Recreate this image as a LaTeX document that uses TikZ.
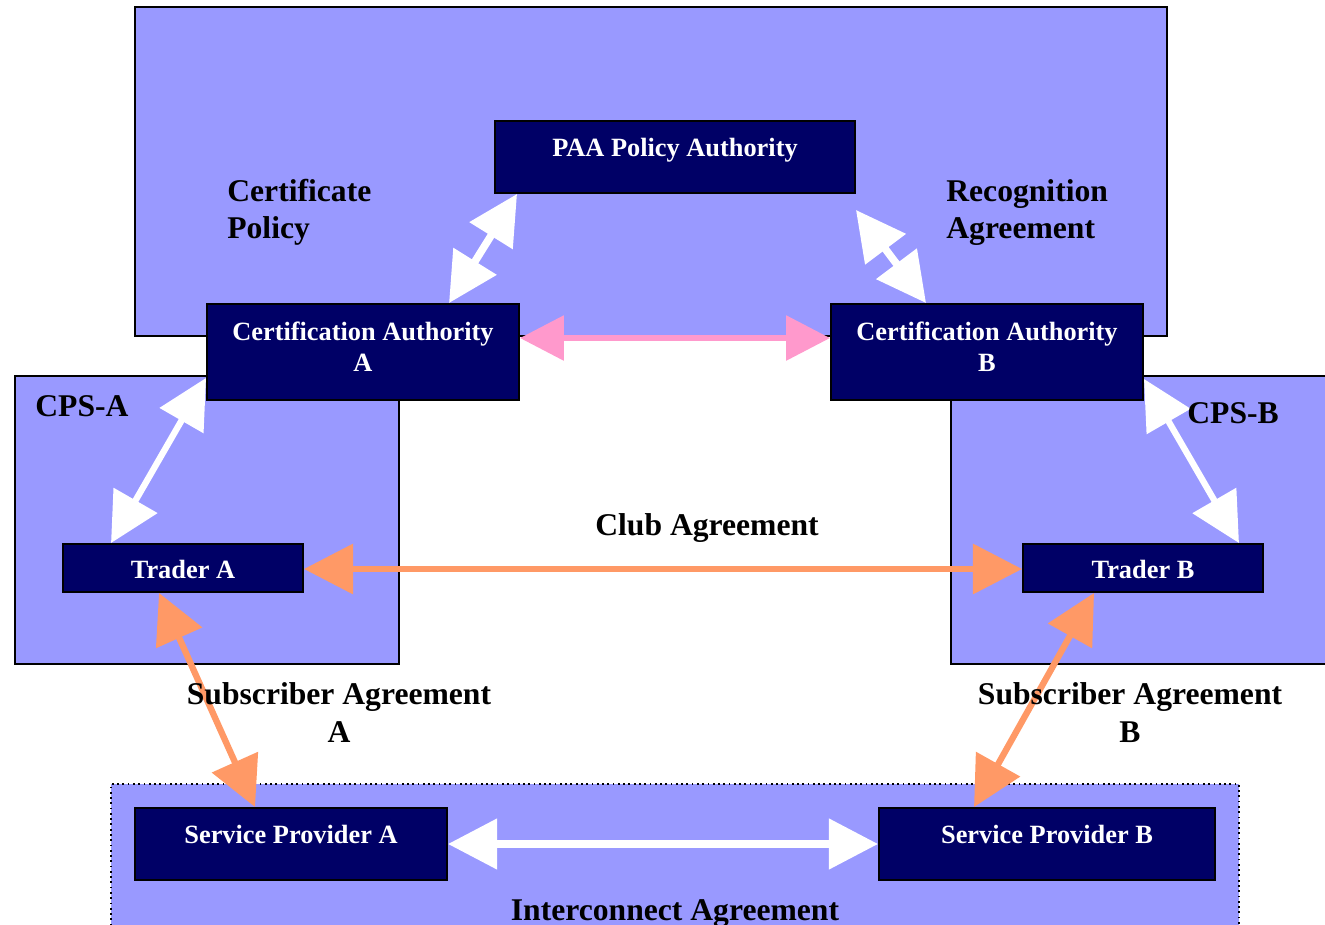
\documentclass[tikz,border=0pt]{standalone}
\usepackage{fontspec}
\setmainfont{Liberation Serif}
\usetikzlibrary{arrows.meta,calc,fit}
\definecolor{panelc}{HTML}{9999FF}
\definecolor{navyc}{HTML}{000066}
\definecolor{pinkc}{HTML}{FF99CC}
\definecolor{orangec}{HTML}{FF9966}
\begin{document}
\begin{tikzpicture}[x=0.02cm,y=-0.02cm,
  panelbox/.style={draw=black, line width=1pt, fill=panelc, inner sep=0pt},
  navybox/.style={draw=black, line width=1.1pt, fill=navyc, inner sep=0pt},
  btxt/.style={text=white, font=\fontsize{15}{17.8}\selectfont\bfseries, align=center, inner sep=0pt},
  lbl/.style={font=\fontsize{18}{21.5}\selectfont\bfseries, inner sep=0pt},
  bighead/.tip={Triangle[length=28pt,width=28pt]},
  pinkhead/.tip={Triangle[length=25pt,width=25pt]},
  warrowL/.style={draw=white, line width=4.3pt, bighead-bighead},
  warrowS/.style={draw=white, line width=3.6pt, bighead-bighead},
  parrow/.style={draw=pinkc, line width=3.4pt, pinkhead-pinkhead},
  oarrow/.style={draw=orangec, line width=3.6pt, bighead-bighead}
]
\useasboundingbox (0,0) rectangle (1325,925);
\clip (0,0) rectangle (1325,925);
\fill[white] (0,0) rectangle (1325,925);

% panels
\node[panelbox, fit={(135,7)(1167,336)}] (cpol) {};
\node[panelbox, fit={(15,376)(399,664)}] (cpsa) {};
\node[panelbox, fit={(951,376)(1345,664)}] (cpsb) {};
\node[panelbox, dotted, fit={(111,784)(1239,950)}] (icon) {};

% boxes
\node[navybox, fit={(495,121)(855,193)}] (paa) {};
\node[navybox, fit={(207,304)(519,400)}] (caA) {};
\node[navybox, fit={(831,304)(1143,400)}] (caB) {};
\node[navybox, fit={(63,544)(303,592)}] (trA) {};
\node[navybox, fit={(1023,544)(1263,592)}] (trB) {};
\node[navybox, fit={(135,808)(447,880)}] (spA) {};
\node[navybox, fit={(879,808)(1215,880)}] (spB) {};

% connectors
\draw[warrowL] ($(paa.south west)+(23,0)$) -- ($(caA.north west)+(243,0)$);
\draw[warrowL] ($(paa.south east)+(0,16)$) -- ($(caB.north west)+(96,0)$);
\draw[warrowS] ($(caA.south west)+(0,-23)$) -- ($(trA.north west)+(49,0)$);
\draw[warrowS] ($(caB.south east)+(0,-22)$) -- ($(trB.north east)+(-25,0)$);
\draw[parrow] ($(caA.north east)+(0,35)$) -- ($(caB.north west)+(0,35)$);
\draw[oarrow] ($(trA.east)+(0,1)$) -- ($(trB.west)+(0,1)$);
\draw[oarrow] ($(trA.south west)+(97,0)$) -- ($(spA.north west)+(121,0)$);
\draw[oarrow] ($(trB.south west)+(72,0)$) -- ($(spB.north west)+(96,0)$);
\draw[warrowL] (spA.east) -- (spB.west);

% box texts
\node[btxt, anchor=base] (tpaa) at (675,157) {PAA Policy Authority};
\node[btxt, anchor=base] (tcaA) at (363,372) {Certification Authority\\A};
\node[btxt, anchor=base] (tcaB) at (987,372) {Certification Authority\\B};
\node[btxt, anchor=base] (ttrA) at (183,579) {Trader A};
\node[btxt, anchor=base] (ttrB) at (1143,579) {Trader B};
\node[btxt, anchor=base] (tspA) at (291,843) {Service Provider A};
\node[btxt, anchor=base] (tspB) at (1047,843) {Service Provider B};

% labels
\node[lbl, anchor=base west, align=left] (lcp) at (227,239) {Certificate\\Policy};
\node[lbl, anchor=base west, align=left] (lra) at (946,239) {Recognition\\Agreement};
\node[lbl, anchor=base west] (lcpsa) at (35,417) {CPS-A};
\node[lbl, anchor=base west] (lcpsb) at (1187,424) {CPS-B};
\node[lbl, anchor=base] (lclub) at (707,536) {Club Agreement};
\node[lbl, anchor=base, align=center] (lsaA) at (339,742) {Subscriber Agreement\\A};
\node[lbl, anchor=base, align=center] (lsaB) at (1130,742) {Subscriber Agreement\\B};
\node[lbl, anchor=base] (lic) at (675,920) {Interconnect Agreement};
\end{tikzpicture}
\end{document}
